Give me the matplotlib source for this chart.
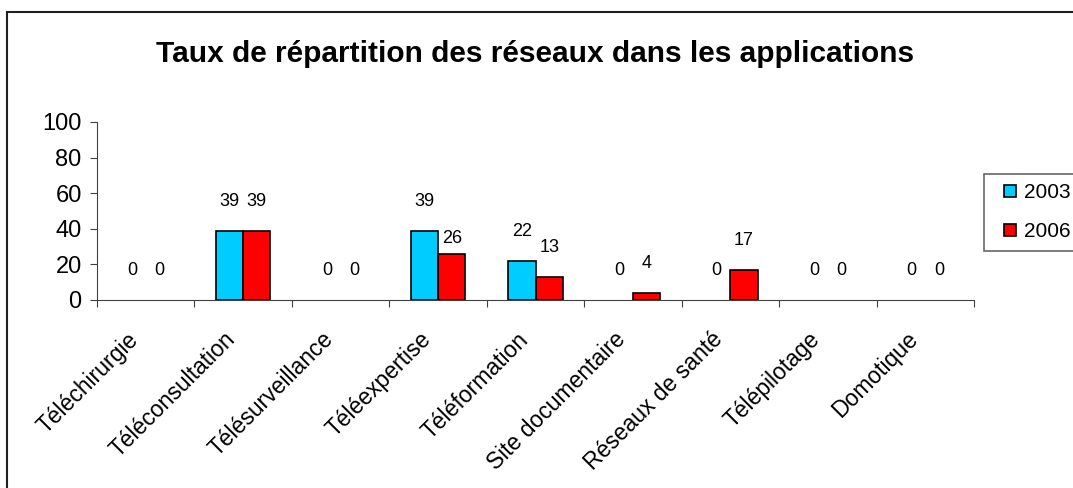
import numpy as np
import matplotlib.pyplot as plt
from matplotlib.patches import Rectangle
from matplotlib.lines import Line2D
from matplotlib.transforms import ScaledTranslation

# Données
applications = ["Téléchirurgie", "Téléconsultation", "Télésurveillance", "Téléexpertise",
                "Téléformation", "Site documentaire", "Réseaux de santé", "Télépilotage", "Domotique"]
taux_2003 = [0, 39, 0, 39, 22, 0, 0, 0, 0]
taux_2006 = [0, 39, 0, 26, 13, 4, 17, 0, 0]
annees = ["2003", "2006"]
couleurs = ["#00CCFF", "#FF0000"]

plt.rcParams['font.family'] = ['Liberation Sans', 'DejaVu Sans']

fig = plt.figure(figsize=(10.73, 4.88), dpi=100)
ax = fig.add_axes([97 / 1073, 1 - 300 / 488, 877 / 1073, 178 / 488])

# cadre extérieur (coupé à droite et en bas)
fig.patches.append(Rectangle((7 / 1073, -0.1), 2, 1 - 12 / 488 + 0.1, transform=fig.transFigure,
                             fill=False, edgecolor="#202020", linewidth=1.5))

x = np.arange(len(applications)) + 0.5
largeur = 0.28
b1 = ax.bar(x - largeur / 2, taux_2003, largeur, color=couleurs[0], edgecolor="black",
            linewidth=1.2)
b2 = ax.bar(x + largeur / 2, taux_2006, largeur, color=couleurs[1], edgecolor="black",
            linewidth=1.2)

# étiquettes de valeurs (les barres nulles ne sont pas tracées)
for barres in (b1, b2):
    for b in barres:
        h = b.get_height()
        if h == 0:
            b.set_linewidth(0)
        decal = 21
        if barres is b2 and h == 26:
            decal = 11  # Excel l'a placé plus bas
        ax.annotate(f"{h:g}", (b.get_x() + b.get_width() / 2, h), xytext=(0, decal),
                    textcoords="offset points", ha="center", va="center", fontsize=13)

ax.set_xlim(0, len(applications))
ax.set_ylim(0, 100)
ax.set_yticks(range(0, 101, 20))
ax.set_xticks(range(0, len(applications) + 1))
ax.set_xticklabels([])

# noms des applications, inclinés à 45°
decalage = ScaledTranslation(-11 / 100, -36 / 100, fig.dpi_scale_trans)
for xi, nom in zip(x, applications):
    ax.text(xi, 0, nom, transform=ax.get_xaxis_transform() + decalage, rotation=45,
            ha="right", va="center", rotation_mode="anchor", fontsize=16.5)

ax.tick_params(axis="x", which="major", length=5, color="#404040")
ax.tick_params(axis="y", labelsize=17, length=5, pad=6, color="#404040")

for s in ("top", "right"):
    ax.spines[s].set_visible(False)
for s in ("left", "bottom"):
    ax.spines[s].set_color("#404040")

ax.set_title("Taux de répartition des réseaux dans les applications", fontsize=21.5,
             fontweight="bold", pad=43)

poignees = [Line2D([], [], linestyle="none", marker="s", markersize=9, markerfacecolor=c,
                   markeredgecolor="black", markeredgewidth=1.2) for c in couleurs]
leg = ax.legend(poignees, annees, loc="upper left", bbox_to_anchor=(1.011, 0.708),
                borderaxespad=0, frameon=True, fancybox=False, handlelength=1.6,
                handletextpad=-0.1, fontsize=15, labelspacing=0.95, borderpad=0.45)
leg.get_frame().set_edgecolor("#404040")
leg.get_frame().set_linewidth(1.2)

fig.savefig("out.png", dpi=100)
